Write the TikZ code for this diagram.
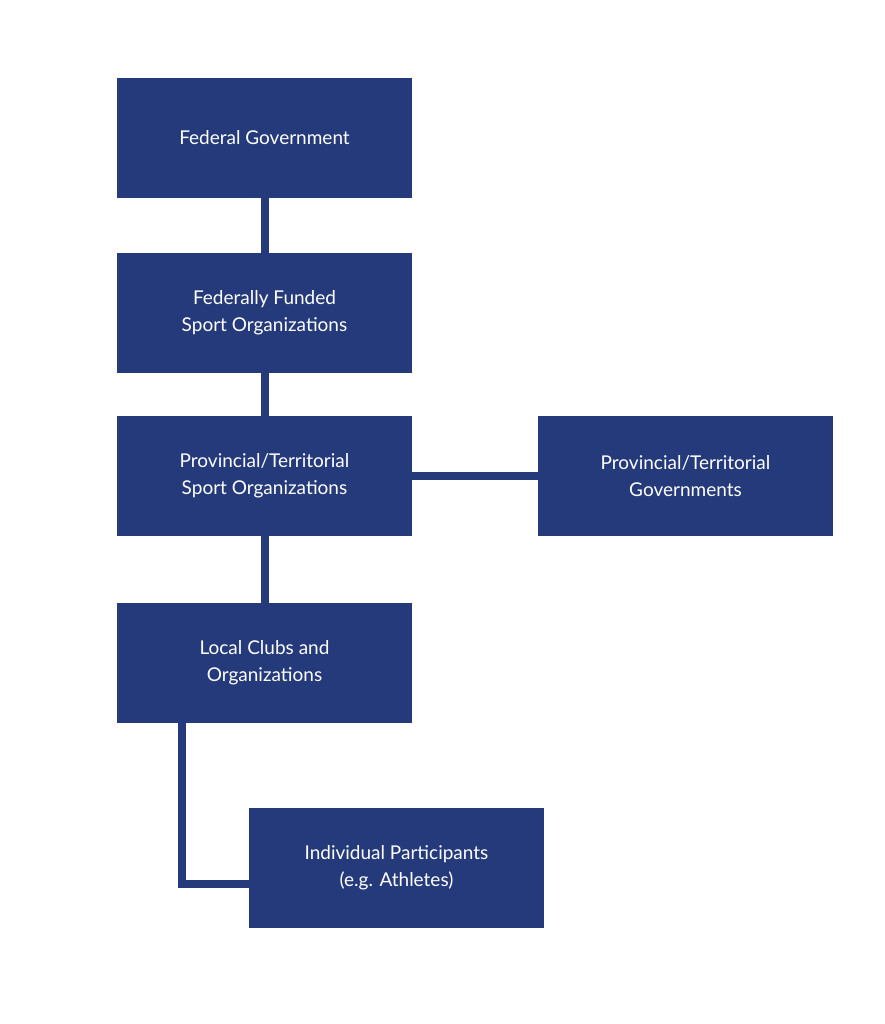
\documentclass[tikz,border=0pt]{standalone}
\usepackage{fontspec}
\setmainfont{Lato}
\definecolor{boxblue}{HTML}{253A7A}
\tikzset{
  orgbox/.style = {rectangle, fill=boxblue, text=white, minimum width=295pt,
                   minimum height=120pt, inner sep=0pt, align=center,
                   font=\fontsize{19pt}{27pt}\selectfont},
  link/.style = {draw=boxblue, line width=8pt}
}
\begin{document}
\begin{tikzpicture}[x=1pt,y=-1pt]
	\useasboundingbox (0,0) rectangle (884,1024);
	
	% Boxes
	\node[orgbox] (fed)   at (264.5,138) {Federal Government};
	\node[orgbox] (ffso)  at (264.5,313) {Federally Funded\\Sport Organizations};
	\node[orgbox] (ptso)  at (264.5,476) {Provincial/Territorial\\Sport Organizations};
	\node[orgbox] (ptgov) at (685.5,476) {Provincial/Territorial\\Governments};
	\node[orgbox] (local) at (264.5,663) {Local Clubs and\\Organizations};
	\node[orgbox] (indiv) at (396.5,868) {Individual Participants\\(e.g. Athletes)};
	
	% Links
	\coordinate (bend) at (182,884);
	\path[link] (fed) -- (ffso);
	\path[link] (ffso) -- (ptso);
	\path[link] (ptso) -- (ptgov);
	\path[link] (ptso) -- (local);
	\path[link] (local.south -| bend) -- (bend) -- (indiv.west |- bend);
	
\end{tikzpicture}
\end{document}
